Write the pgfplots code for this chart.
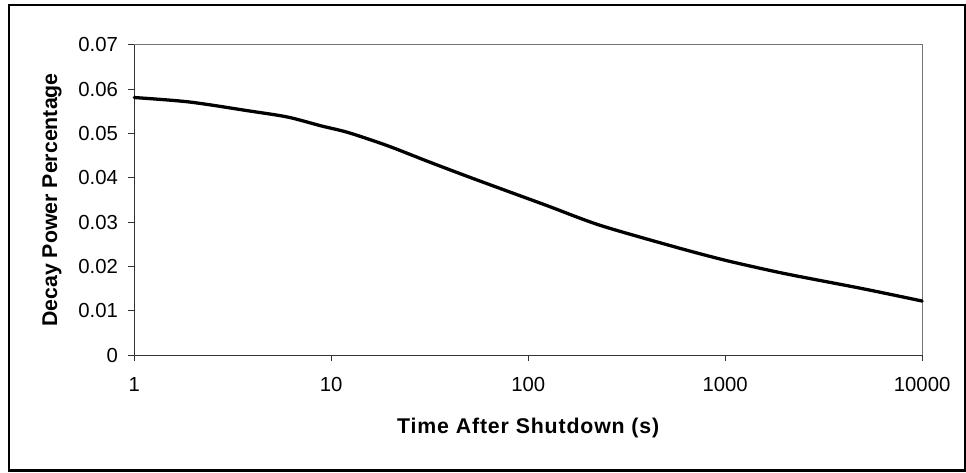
\documentclass[border=0pt]{standalone}
\usepackage{fontspec}
\setmainfont{Liberation Sans}
\usepackage{pgfplots}
\pgfplotsset{compat=1.18}
\begin{document}
\begin{tikzpicture}
\begin{axis}[
  scale only axis,
  width=792bp, height=312bp,
  xmode=log, log basis x=10,
  xmin=1, xmax=10000, ymin=0, ymax=0.07,
  xtick={1,10,100,1000,10000},
  xticklabels={1,10,100,1000,10000},
  minor xtick={},
  ytick={0,0.01,0.02,0.03,0.04,0.05,0.06,0.07},
  yticklabels={0,0.01,0.02,0.03,0.04,0.05,0.06,0.07},
  scaled y ticks=false,
  xtick pos=bottom, ytick pos=left,
  /pgf/number format/assume math mode=true,
  tick align=outside,
  major tick length=6bp,
  tick style={color=black!80, line width=0.8bp},
  x tick label style={font=\fontsize{20.5}{24}\selectfont, anchor=north, yshift=-13bp},
  y tick label style={font=\fontsize{20.5}{24}\selectfont, anchor=east, xshift=-7bp},
  axis line style={draw=none},
  xlabel={Time After Shutdown (s)},
  ylabel={Decay Power Percentage},
  every axis x label/.style={at={(axis description cs:0.5,-0.234)}, anchor=center,
     font=\fontsize{21.5}{25}\selectfont\bfseries\addfontfeature{LetterSpace=4}},
  every axis y label/.style={at={(axis description cs:-0.1045,0.5)}, rotate=90, anchor=center,
     font=\fontsize{21.5}{25}\selectfont\bfseries},
  clip=false,
]
\draw[black!55, line width=1.2bp] (rel axis cs:0,1) -- (rel axis cs:1,1) -- (rel axis cs:1,0);
\draw[black!80, line width=1.2bp] (rel axis cs:0,1) -- (rel axis cs:0,0) -- (rel axis cs:1,0);
\addplot[black, line width=3.3bp, smooth, tension=0.5, line join=round, line cap=round] coordinates {
(1,0.0581) (1.9,0.0571) (3.8,0.0551) (6,0.0537) (8.9,0.0517) (12.2,0.0502)
(19.4,0.0472) (30.9,0.0437) (49.2,0.0403) (78.3,0.0370) (125,0.0337)
(231,0.0293) (546,0.0245) (901,0.0219) (1276,0.0203) (2105,0.0182)
(4975,0.0150) (10000,0.0122)
};
\end{axis}
\draw[black, line width=2.2bp] (-126bp,-116bp) rectangle (835bp,352bp);
\useasboundingbox (-135bp,-118bp) rectangle (831bp,357bp);
\end{tikzpicture}
\end{document}
